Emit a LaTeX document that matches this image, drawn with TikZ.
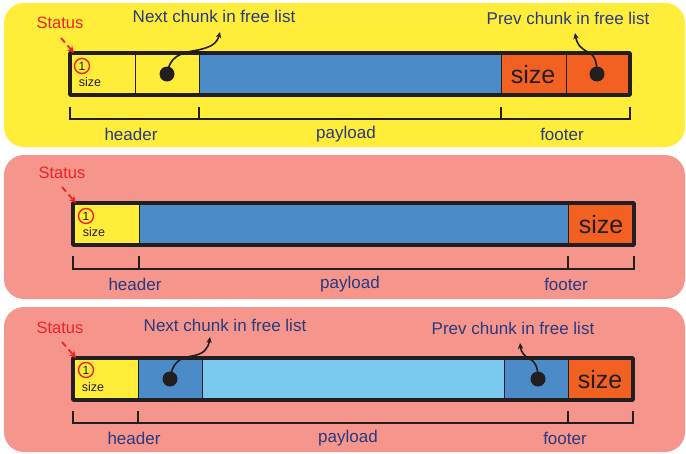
\documentclass[tikz,border=0pt]{standalone}
\usepackage{fontspec}
\setmainfont{Liberation Sans}
\usetikzlibrary{arrows.meta}
\definecolor{panelY}{RGB}{255,237,58}
\definecolor{panelP}{RGB}{246,149,139}
\definecolor{cellY}{RGB}{255,237,58}
\definecolor{cellB}{RGB}{74,139,200}
\definecolor{cellL}{RGB}{122,200,238}
\definecolor{cellO}{RGB}{242,96,34}
\definecolor{navy}{RGB}{40,58,128}
\definecolor{redS}{RGB}{236,36,40}
\definecolor{ink}{RGB}{35,31,32}
\tikzset{
  panel/.style={rounded corners=20pt},
  cell/.style={draw=ink, line width=0.8pt, inner sep=0pt, outer sep=0pt},
  barframe/.style={draw=ink, line width=3.5pt, line join=round},
  lbl/.style={text=navy, font=\fontsize{17}{20}\selectfont, inner sep=0pt},
  statuslbl/.style={text=redS, font=\fontsize{16.5}{20}\selectfont, inner sep=0pt},
  bigsize/.style={text=ink, font=\fontsize{25}{28}\selectfont, inner sep=0pt},
  smallsize/.style={text=ink, font=\fontsize{12.5}{14}\selectfont, inner sep=0pt},
  one/.style={text=ink, font=\fontsize{12}{14}\selectfont, inner sep=0pt},
  statuscirc/.style={circle, draw=redS, line width=1.4pt, minimum size=15pt, inner sep=0pt},
  dot/.style={circle, fill=ink, minimum size=15pt, inner sep=0pt},
  ptr/.style={draw=ink, line width=1.6pt, -{Stealth[length=6pt,width=5.5pt]}},
  statusarrow/.style={draw=redS, line width=1.8pt, dash pattern=on 6pt off 4pt, -{Stealth[length=7pt,width=7pt]}},
  brace/.style={draw=ink, line width=1.4pt},
}
\newcommand{\mycell}[6]{%
  \node[cell, fill=#6, minimum width={(#3-#2)*1pt}, minimum height={(#5-#4)*1pt}]
    (#1) at ({(#2+#3)/2},{(#4+#5)/2}) {};}
\begin{document}
\begin{tikzpicture}[x=1pt,y=-1pt]
\useasboundingbox (0,0) rectangle (686,453);
% panels
\fill[panelY, panel] (4,3) rectangle (685,147);
\fill[panelP, panel] (4,155) rectangle (685,299);
\fill[panelP, panel] (4,307) rectangle (685,452);

% ---------- Panel 1 ----------
\mycell{a1}{70}{135}{53}{95}{cellY}
\mycell{a2}{135}{199}{53}{95}{cellY}
\mycell{a3}{199}{501}{53}{95}{cellB}
\mycell{a4}{501}{566}{53}{95}{cellO}
\mycell{a5}{566}{630}{53}{95}{cellO}
\draw[barframe] (70,53) rectangle (630,95);
\node[statuscirc] (c1) at (82,66) {};
\node[one] (o1) at (82,66) {1};
\node[smallsize] (s1) at (90,82) {size};
\node[bigsize] (b1) at (533,75) {size};
\node[dot] (d1) at (167,74) {};
\node[dot] (e1) at (597,74) {};
\node[lbl] (n1) at (214,16) {Next chunk in free list};
\node[lbl] (p1) at (568,18) {Prev chunk in free list};
\node[statuslbl] (st1) at (60,23) {Status};
\coordinate (nt1) at (220,32);
\coordinate (pt1) at (575,33);
\draw[ptr] (d1.center) .. controls (170,56) and (180,53) .. (198,50) .. controls (212,47) and (217,43) .. (nt1);
\draw[ptr] (e1.center) .. controls (597,60) and (594,55) .. (588,52) .. controls (580,48) and (577,44) .. (pt1);
\coordinate (sa1) at (61,38);
\coordinate (sb1) at (74,53);
\draw[statusarrow] (sa1) -- (sb1);
\draw[brace] (70,107) |- (630,119) -- (630,107);
\draw[brace] (199,107) -- (199,119);
\draw[brace] (501,107) -- (501,119);
\node[lbl] (h1) at (131,134) {header};
\node[lbl] (y1) at (346,134) {payload};
\node[lbl] (f1) at (562,134) {footer};

% ---------- Panel 2 ----------
\mycell{b1c}{73}{139}{203}{245}{cellY}
\mycell{b2c}{139}{568}{203}{245}{cellB}
\mycell{b3c}{568}{634}{203}{245}{cellO}
\draw[barframe] (73,203) rectangle (634,245);
\node[statuscirc] (c2) at (86,216) {};
\node[one] (o2) at (86,216) {1};
\node[smallsize] (s2) at (94,232) {size};
\node[bigsize] (b2) at (601,225) {size};
\node[statuslbl] (st2) at (62,173) {Status};
\coordinate (sa2) at (62,187);
\coordinate (sb2) at (76,203);
\draw[statusarrow] (sa2) -- (sb2);
\draw[brace] (73,256) |- (634,269) -- (634,256);
\draw[brace] (139,256) -- (139,269);
\draw[brace] (568,256) -- (568,269);
\node[lbl] (h2) at (135,284) {header};
\node[lbl] (y2) at (350,284) {payload};
\node[lbl] (f2) at (566,284) {footer};

% ---------- Panel 3 ----------
\mycell{c1c}{73}{138}{358}{400}{cellY}
\mycell{c2c}{138}{202}{358}{400}{cellB}
\mycell{c3c}{202}{504}{358}{400}{cellL}
\mycell{c4c}{504}{568}{358}{400}{cellB}
\mycell{c5c}{568}{633}{358}{400}{cellO}
\draw[barframe] (73,358) rectangle (633,400);
\node[statuscirc] (c3) at (86,370) {};
\node[one] (o3) at (86,370) {1};
\node[smallsize] (s3) at (93,387) {size};
\node[bigsize] (b3) at (600,380) {size};
\node[dot] (d3) at (170,379) {};
\node[dot] (e3) at (538,379) {};
\node[lbl] (n3) at (225,325) {Next chunk in free list};
\node[lbl] (p3) at (513,328) {Prev chunk in free list};
\node[statuslbl] (st3) at (60,328) {Status};
\coordinate (nt3) at (210,337);
\coordinate (pt3) at (520,343);
\draw[ptr] (d3.center) .. controls (172,364) and (178,358) .. (192,356) .. controls (204,354) and (208,349) .. (nt3);
\draw[ptr] (e3.center) .. controls (538,366) and (535,362) .. (530,359) .. controls (524,356) and (521,352) .. (pt3);
\coordinate (sa3) at (62,342);
\coordinate (sb3) at (76,358);
\draw[statusarrow] (sa3) -- (sb3);
\draw[brace] (73,411) |- (633,423) -- (633,411);
\draw[brace] (138,411) -- (138,423);
\draw[brace] (568,411) -- (568,423);
\node[lbl] (h3) at (134,438) {header};
\node[lbl] (y3) at (348,438) {payload};
\node[lbl] (f3) at (565,438) {footer};
\end{tikzpicture}
\end{document}
